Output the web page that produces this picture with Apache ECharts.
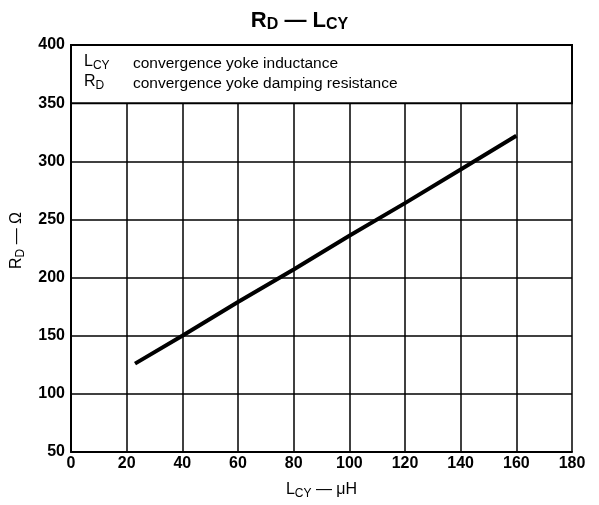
<!DOCTYPE html>
<html>
<head>
<meta charset="utf-8">
<script src="https://cdn.jsdelivr.net/npm/echarts@6/dist/echarts.min.js"></script>
<style>
  html, body { margin: 0; padding: 0; background: #fff; }
  #chart { width: 599px; height: 505px; }
</style>
</head>
<body>
<div id="chart"></div>
<script>
// L_CY (uH) vs R_D (ohm)
var lcy = [23, 40, 60, 80, 100, 120, 140, 160];
var rd = [126, 150, 179, 207, 236, 264, 293, 322];
var xTicks = [0, 20, 40, 60, 80, 100, 120, 140, 160, 180];
var yTicks = [50, 100, 150, 200, 250, 300, 350, 400];

var font = '"Liberation Sans", Arial, sans-serif';
var chart = echarts.init(document.getElementById('chart'));

var subRich = {
  m: { fontSize: 16, fontFamily: font, color: '#000' },
  s: { fontSize: 12, fontFamily: font, color: '#000', padding: [8, 0, 0, 0] }
};

var option = {
  backgroundColor: '#fff',
  animation: false,
  title: {
    text: '{m|R}{s|D}{m| — L}{s|CY}',
    left: 'center',
    top: 3,
    textStyle: {
      rich: {
        m: { fontSize: 22, fontWeight: 'bold', fontFamily: font, color: '#000' },
        s: { fontSize: 16, fontWeight: 'bold', fontFamily: font, color: '#000', padding: [9, 0, 0, 0] }
      }
    }
  },
  grid: { left: 71, right: 27, top: 45, bottom: 53, containLabel: false, outerBoundsMode: 'none' },
  xAxis: {
    type: 'value',
    min: 0, max: 180, interval: 20,
    name: '{m|L}{s|CY}{m| — μH}',
    nameLocation: 'middle',
    nameGap: 28,
    nameTextStyle: { rich: subRich },
    axisLine: { show: true, lineStyle: { color: '#000', width: 2 } },
    axisTick: { show: false },
    axisLabel: {
      color: '#000', fontSize: 16, fontWeight: 'bold', fontFamily: font, margin: 4,
      formatter: function (v) { return xTicks.indexOf(v) >= 0 ? String(v) : ''; }
    },
    splitLine: { show: true, lineStyle: { color: '#000', width: 1.5 } }
  },
  yAxis: {
    type: 'value',
    min: 50, max: 400, interval: 50,
    name: '{m|R}{s|D}{m| — Ω}',
    nameLocation: 'middle',
    nameGap: 44,
    nameRotate: 90,
    nameTextStyle: { rich: subRich, padding: [0, 0, 0, 16] },
    axisLine: { show: true, lineStyle: { color: '#000', width: 2 } },
    axisTick: { show: false },
    axisLabel: {
      color: '#000', fontSize: 16, fontWeight: 'bold', fontFamily: font, margin: 6,
      formatter: function (v) { return yTicks.indexOf(v) >= 0 ? String(v) : ''; }
    },
    splitLine: { show: true, lineStyle: { color: '#000', width: 1.5 } }
  },
  series: [{
    type: 'line',
    data: lcy.map(function (x, i) { return [x, rd[i]]; }),
    symbol: 'none',
    lineStyle: { color: '#000', width: 4 },
    markArea: {
      silent: true,
      itemStyle: { color: '#fff', borderColor: '#000', borderWidth: 2 },
      data: [[{ xAxis: 0, yAxis: 350 }, { xAxis: 180, yAxis: 400 }]]
    }
  }],
  graphic: [{
    type: 'text',
    left: 84, top: 54, z: 10,
    style: { text: '{m|L}{s|CY}', rich: subRich }
  }, {
    type: 'text',
    left: 133, top: 56, z: 10,
    style: { text: 'convergence yoke inductance', fontSize: 15.5, fontFamily: font, fill: '#000' }
  }, {
    type: 'text',
    left: 84, top: 74, z: 10,
    style: { text: '{m|R}{s|D}', rich: subRich }
  }, {
    type: 'text',
    left: 133, top: 76, z: 10,
    style: { text: 'convergence yoke damping resistance', fontSize: 15.5, fontFamily: font, fill: '#000' }
  }]
};

chart.setOption(option);
</script>
</body>
</html>
